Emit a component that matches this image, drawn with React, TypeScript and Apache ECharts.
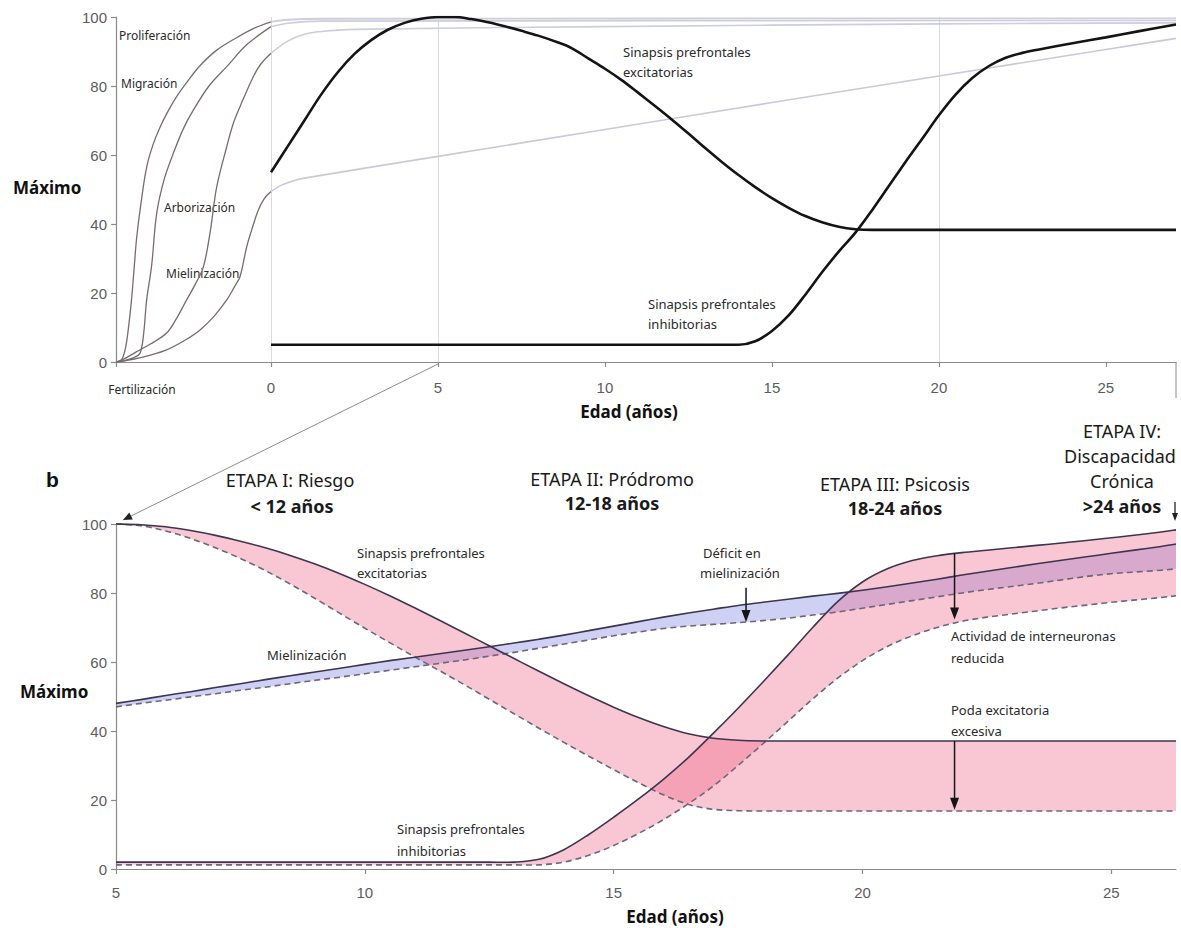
import React, { useEffect, useRef } from "react";
import * as echarts from "echarts";

type Pt = [number, number];

// ---------- Panel a: prenatal curves (x = months after fertilization, 9 = birth; y = % of maximum)
const PRE_PROLIFERACION: Pt[] = [[0, 0], [0.3, 0.4], [0.55, 4], [0.75, 11], [0.9, 18], [1.05, 27], [1.2, 36], [1.45, 46], [1.78, 56.5], [2.15, 63], [2.55, 68], [3.0, 72.5], [3.5, 76.8], [4.1, 81], [4.9, 86], [5.85, 90.4], [7.0, 94], [8.0, 96.7], [9, 98.6]];
const PRE_MIGRACION: Pt[] = [[0, 0], [0.5, 0.4], [1.0, 1.2], [1.39, 2.5], [1.6, 8], [1.78, 18], [2.07, 28], [2.36, 43], [2.8, 53], [3.33, 60.5], [3.9, 67.5], [4.49, 73], [5.4, 80], [6.43, 85.6], [7.6, 92], [9, 97.2]];
const PRE_ARBORIZACION: Pt[] = [[0, 0], [0.5, 1], [1.2, 3], [2.0, 5.2], [2.94, 8.4], [3.5, 12.5], [4.1, 18], [4.6, 22.5], [5.07, 27.5], [5.46, 37.4], [5.85, 50.8], [6.43, 62.4], [6.8, 69], [7.2, 74], [7.97, 82.7], [8.4, 86.3], [9, 89.5]];
const PRE_MIELINIZACION: Pt[] = [[0, 0], [1, 0.8], [2, 2], [2.94, 3.5], [4, 6.3], [4.88, 9.3], [5.7, 13.3], [6.43, 18], [6.9, 22], [7.2, 24.7], [7.59, 33.4], [7.88, 38.3], [8.26, 44], [8.6, 47.3], [9, 49.4]];

// ---------- Panel a: postnatal curves (x = age in years)
const POST_PROLIFERACION: Pt[] = [[0, 98.6], [0.5, 99.2], [1.5, 99.5], [27.1, 99.6]];
const POST_MIGRACION: Pt[] = [[0, 97.2], [0.5, 98.2], [1.5, 98.8], [27.1, 99]];
const POST_ARBORIZACION: Pt[] = [[0, 89.5], [0.5, 93], [1, 95], [1.5, 95.8], [2.5, 96.4], [10, 97.2], [20, 98], [27.1, 98.3]];
const POST_MIELINIZACION: Pt[] = [[0, 49.4], [0.3, 51.2], [0.7, 52.6], [1, 53.3], [5, 59.6], [10, 67.4], [15, 75.2], [20, 82.9], [25, 90.6], [27.1, 93.8]];
const POST_EXCITATORIAS: Pt[] = [[0, 55], [0.5, 62.5], [1, 70], [1.5, 77.5], [2, 84], [2.5, 89.3], [3, 93.3], [3.5, 96.3], [4, 98.3], [4.5, 99.5], [5, 100], [5.5, 100], [6, 99.4], [6.5, 98.5], [7, 97.3], [7.5, 96], [8, 94.6], [8.6, 92.6], [9, 91], [9.5, 88], [10, 85], [10.5, 81.7], [11, 78], [11.5, 74.2], [12, 70.3], [12.5, 66.2], [13, 62], [13.5, 58], [14, 54.2], [14.5, 50.7], [15, 47.5], [15.5, 44.7], [16, 42.3], [16.5, 40.5], [17, 39.2], [17.5, 38.5], [18, 38.3], [22, 38.3], [27.1, 38.3]];
const POST_INHIBITORIAS: Pt[] = [[0, 5], [10, 5], [14, 5], [14.5, 6], [15, 9], [15.5, 13.5], [16, 19.5], [16.5, 26], [17, 32], [17.5, 37.5], [18, 44], [18.5, 51], [19, 58], [19.5, 64.7], [20, 71.5], [20.5, 77.5], [21, 82.3], [21.5, 85.8], [22, 88.2], [22.5, 89.6], [23, 90.6], [24, 92.4], [25, 94.1], [26, 95.9], [27.1, 97.8]];
const POST_GUIDE_AGES = [0, 5, 20];
const POST_TICKS = [0, 5, 10, 15, 20, 25];
const Y_TICKS = [0, 20, 40, 60, 80, 100];

// ---------- Panel b: normal trajectory (solid) vs. reduced trajectory (dashed), ages 5–26.3
const B_AGES = [5, 5.5, 6, 6.5, 7, 7.5, 8, 8.5, 9, 9.5, 10, 10.5, 11, 11.5, 12, 12.5, 13, 13.5, 14, 14.5, 15, 15.5, 16, 16.5, 17, 17.5, 18, 18.5, 19, 19.5, 20, 20.5, 21, 21.5, 22, 22.5, 23, 23.5, 24, 24.5, 25, 25.5, 26, 26.3];
const B_EXC_NORMAL = [100, 99.8, 99.2, 98.1, 96.7, 95.0, 93.1, 90.9, 88.4, 85.6, 82.5, 79.2, 75.7, 72.1, 68.4, 64.7, 61, 57.3, 53.7, 50.2, 46.9, 43.9, 41.3, 39.2, 37.9, 37.3, 37.1, 37.1, 37.1, 37.1, 37.1, 37.1, 37.1, 37.1, 37.1, 37.1, 37.1, 37.1, 37.1, 37.1, 37.1, 37.1, 37.1, 37.1];
const B_EXC_REDUCIDA = [100, 99.5, 98.0, 95.8, 93.1, 90.0, 86.5, 82.6, 78.4, 74.1, 69.8, 65.6, 61.5, 57.5, 53.4, 49.2, 45, 40.8, 36.7, 32.7, 28.8, 25.0, 21.5, 18.7, 17.3, 16.9, 16.8, 16.8, 16.8, 16.8, 16.8, 16.8, 16.8, 16.8, 16.8, 16.8, 16.8, 16.8, 16.8, 16.8, 16.8, 16.8, 16.8, 16.8];
const B_INH_NORMAL = [2, 2, 2, 2, 2, 2, 2, 2, 2, 2, 2, 2, 2, 2, 2, 2, 2, 2.8, 5.6, 10, 15, 20.3, 26, 32.3, 39.3, 46.6, 54.2, 62, 70, 77.5, 83.2, 87, 89.4, 90.8, 91.7, 92.4, 93.1, 93.8, 94.5, 95.2, 96, 96.8, 97.7, 98.3];
const B_INH_REDUCIDA = [1.2, 1.2, 1.2, 1.2, 1.2, 1.2, 1.2, 1.2, 1.2, 1.2, 1.2, 1.2, 1.2, 1.2, 1.2, 1.2, 1.2, 1.2, 2, 4, 6.8, 10.3, 14.3, 18.9, 24, 30, 36.3, 42.8, 49.3, 55.3, 60.4, 64.5, 67.6, 70, 71.8, 73, 73.9, 74.8, 75.7, 76.5, 77.3, 78, 78.7, 79.2];
const B_MIE_NORMAL = [48, 49.1, 50.3, 51.4, 52.6, 53.7, 54.9, 56, 57.1, 58.2, 59.3, 60.4, 61.4, 62.4, 63.4, 64.4, 65.5, 66.6, 67.8, 69.1, 70.4, 71.7, 73, 74.2, 75.3, 76.4, 77.3, 78.2, 79.1, 79.9, 80.8, 81.8, 82.9, 84, 85.2, 86.3, 87.4, 88.5, 89.5, 90.5, 91.5, 92.5, 93.5, 94.2];
const B_MIE_REDUCIDA = [47, 48, 48.9, 49.9, 50.8, 51.8, 52.7, 53.7, 54.7, 55.6, 56.6, 57.6, 58.6, 59.6, 60.6, 61.7, 62.8, 64, 65.2, 66.4, 67.6, 68.7, 69.7, 70.4, 70.9, 71.4, 72, 72.7, 73.6, 74.5, 75.6, 76.7, 77.8, 78.9, 80, 81, 81.9, 82.8, 83.8, 84.8, 85.6, 86.1, 86.6, 87];
const B_TICKS = [5, 10, 15, 20, 25];
// Loss arrows: age, value at the normal curve, value at the reduced curve
const B_ARROW_AGES = [17.66, 21.85, 21.85];
const B_ARROW_FROM = [81.5, 91.5, 37.1];
const B_ARROW_TO = [71.6, 72.3, 17.2];

const SANS = '"Noto Sans", "Open Sans", sans-serif';
const TICK_FONT = '"Liberation Sans", Arial, sans-serif';
const AXIS_GRAY = "#8a8a8a";
const PINK = "rgba(238, 90, 130, 0.34)";
const BLUE = "rgba(120, 125, 225, 0.36)";
const SOLID = "#3d3550";
const DASHED = "#6d6579";

// Cubic segments through pixel points (Catmull-Rom style), without the initial move
function curveSegments(pts: number[][], k = 1 / 6) {
  let d = "";
  for (let i = 0; i < pts.length - 1; i++) {
    const p0 = pts[i - 1] || pts[i];
    const p1 = pts[i];
    const p2 = pts[i + 1];
    const p3 = pts[i + 2] || pts[i + 1];
    const c1x = p1[0] + (p2[0] - p0[0]) * k;
    const c1y = p1[1] + (p2[1] - p0[1]) * k;
    const c2x = p2[0] - (p3[0] - p1[0]) * k;
    const c2y = p2[1] - (p3[1] - p1[1]) * k;
    d += ` C${c1x.toFixed(2)},${c1y.toFixed(2)} ${c2x.toFixed(2)},${c2y.toFixed(2)} ${p2[0].toFixed(2)},${p2[1].toFixed(2)}`;
  }
  return d;
}

function arrowHead(tip: number[], from: number[], len = 10, half = 4, color = "#222") {
  const dx = tip[0] - from[0];
  const dy = tip[1] - from[1];
  const d = Math.hypot(dx, dy) || 1;
  const ux = dx / d;
  const uy = dy / d;
  const bx = tip[0] - ux * len;
  const by = tip[1] - uy * len;
  return {
    type: "polygon",
    silent: true,
    shape: { points: [tip, [bx - uy * half, by + ux * half], [bx + uy * half, by - ux * half]] },
    style: { fill: color },
  };
}

function text(x: number, y: number, s: string, opts: any = {}) {
  return {
    type: "text",
    x,
    y,
    silent: true,
    style: {
      text: s,
      fontFamily: opts.family || SANS,
      fontSize: opts.size || 13,
      fontWeight: opts.bold ? "bold" : "normal",
      fill: opts.color || "#2a2a2a",
      align: opts.align || "left",
      verticalAlign: "middle",
    },
  };
}

export default function App() {
  const ref = useRef<HTMLDivElement>(null);

  useEffect(() => {
    if (!ref.current) return;
    const chart = echarts.init(ref.current, undefined, { renderer: "svg" });

    const axisLine = { show: true, lineStyle: { color: AXIS_GRAY, width: 1.2 } };
    const axisTick = (values: number[]) => ({ show: true, length: 5, customValues: values, lineStyle: { color: AXIS_GRAY, width: 1.2 } });
    const yAxisBase = (gridIndex: number, show: boolean) => ({
      type: "value",
      gridIndex,
      min: 0,
      max: 100,
      interval: 20,
      show,
      axisLine,
      axisTick: axisTick(Y_TICKS),
      axisLabel: { show, margin: 9, fontFamily: TICK_FONT, fontSize: 15, color: "#5c5c5c" },
      splitLine: { show: false },
    });

    const thinLine = (xAxisIndex: number, data: Pt[], color: string, width: number, extra: any = {}) => ({
      type: "line",
      xAxisIndex,
      yAxisIndex: xAxisIndex,
      data,
      smooth: 0.35,
      showSymbol: false,
      silent: true,
      lineStyle: { color, width },
      z: 3,
      ...extra,
    });

    // Filled band between a normal (hi) and reduced (lo) trajectory in panel b
    const bandSeries = (lo: number[], hi: number[], color: string, z: number) => ({
      type: "custom",
      xAxisIndex: 2,
      yAxisIndex: 2,
      silent: true,
      z,
      data: B_AGES.map((a, i) => [a, hi[i], lo[i]]),
      encode: { x: 0, y: [1, 2] },
      renderItem: (params: any, api: any) => {
        if (params.dataIndex !== 0) return null;
        const up = B_AGES.map((a, i) => api.coord([a, hi[i]]));
        const dn = B_AGES.map((a, i) => api.coord([a, lo[i]])).reverse();
        const pathData =
          `M${up[0][0]},${up[0][1]}` + curveSegments(up) + ` L${dn[0][0]},${dn[0][1]}` + curveSegments(dn) + " Z";
        return { type: "path", shape: { pathData }, style: { fill: color, stroke: "none" } };
      },
    });

    // Solid or dashed trajectory line in panel b
    const curveSeries = (vals: number[], dashed: boolean) => ({
      type: "custom",
      xAxisIndex: 2,
      yAxisIndex: 2,
      silent: true,
      z: 4,
      data: B_AGES.map((a, i) => [a, vals[i]]),
      encode: { x: 0, y: 1 },
      renderItem: (params: any, api: any) => {
        if (params.dataIndex !== 0) return null;
        const pts = B_AGES.map((a, i) => api.coord([a, vals[i]]));
        const pathData = `M${pts[0][0]},${pts[0][1]}` + curveSegments(pts);
        return {
          type: "path",
          shape: { pathData },
          style: dashed
            ? { fill: "none", stroke: DASHED, lineWidth: 1.6, lineDash: [6, 4] }
            : { fill: "none", stroke: SOLID, lineWidth: 1.6 },
        };
      },
    });

    const arrowSeries = {
      type: "custom",
      xAxisIndex: 2,
      yAxisIndex: 2,
      silent: true,
      z: 6,
      data: B_ARROW_AGES.map((a, i) => [a, B_ARROW_FROM[i], B_ARROW_TO[i]]),
      encode: { x: 0, y: [1, 2] },
      renderItem: (params: any, api: any) => {
        const a = api.coord([api.value(0), api.value(1)]);
        const b = api.coord([api.value(0), api.value(2)]);
        return {
          type: "group",
          children: [
            { type: "line", shape: { x1: a[0], y1: a[1], x2: b[0], y2: b[1] - 9 }, style: { stroke: "#151515", lineWidth: 1.5 } },
            {
              type: "polygon",
              shape: { points: [[b[0], b[1]], [b[0] - 4.5, b[1] - 12], [b[0] + 4.5, b[1] - 12]] },
              style: { fill: "#151515" },
            },
          ],
        };
      },
    };

    const option: any = {
      animation: false,
      backgroundColor: "#ffffff",
      grid: [
        { left: 116, top: 17, width: 155, height: 345 },
        { left: 271, top: 17, right: 5, height: 345 },
        { left: 116, top: 524, right: 5, height: 345 },
      ],
      xAxis: [
        {
          type: "value",
          gridIndex: 0,
          min: 0,
          max: 9,
          interval: 9,
          axisLine,
          axisTick: axisTick([0]),
          axisLabel: { show: false },
          splitLine: { show: false },
        },
        {
          type: "value",
          gridIndex: 1,
          min: 0,
          max: 27.1,
          interval: 5,
          axisLine,
          axisTick: axisTick(POST_TICKS),
          axisLabel: {
            customValues: POST_TICKS,
            margin: 18,
            fontFamily: TICK_FONT,
            fontSize: 15,
            color: "#5c5c5c",
            formatter: (v: number) => (POST_TICKS.includes(v) ? String(v) : ""),
          },
          splitLine: { show: false },
        },
        {
          type: "value",
          gridIndex: 2,
          min: 5,
          max: 26.3,
          interval: 5,
          axisLine,
          axisTick: axisTick(B_TICKS),
          axisLabel: {
            customValues: B_TICKS,
            margin: 16,
            fontFamily: TICK_FONT,
            fontSize: 15,
            color: "#5c5c5c",
            formatter: (v: number) => (B_TICKS.includes(v) ? String(v) : ""),
          },
          splitLine: { show: false },
        },
      ],
      yAxis: [yAxisBase(0, true), yAxisBase(1, false), yAxisBase(2, true)],
      series: [
        // prenatal processes
        thinLine(0, PRE_PROLIFERACION, "#766c6c", 1.3),
        thinLine(0, PRE_MIGRACION, "#766c6c", 1.3),
        thinLine(0, PRE_ARBORIZACION, "#766c6c", 1.3),
        thinLine(0, PRE_MIELINIZACION, "#766c6c", 1.3),
        // postnatal continuation of those processes
        thinLine(1, POST_PROLIFERACION, "#cdcddc", 1.8, {
          markLine: {
            silent: true,
            symbol: "none",
            label: { show: false },
            lineStyle: { color: "#d9d9e2", width: 1, type: "solid" },
            data: POST_GUIDE_AGES.map((a) => ({ xAxis: a })),
            z: 1,
          },
        }),
        thinLine(1, POST_MIGRACION, "#cdcddc", 1.6),
        thinLine(1, POST_ARBORIZACION, "#cdcddc", 1.6),
        thinLine(1, POST_MIELINIZACION, "#c9c9da", 1.6),
        // prefrontal synapses
        thinLine(1, POST_EXCITATORIAS, "#141414", 2.6, { z: 5 }),
        thinLine(1, POST_INHIBITORIAS, "#141414", 2.6, { z: 5 }),
        // panel b: bands between normal and reduced trajectories
        bandSeries(B_MIE_REDUCIDA, B_MIE_NORMAL, BLUE, 1),
        bandSeries(B_EXC_REDUCIDA, B_EXC_NORMAL, PINK, 2),
        bandSeries(B_INH_REDUCIDA, B_INH_NORMAL, PINK, 2),
        curveSeries(B_MIE_REDUCIDA, true),
        curveSeries(B_EXC_REDUCIDA, true),
        curveSeries(B_INH_REDUCIDA, true),
        curveSeries(B_MIE_NORMAL, false),
        curveSeries(B_EXC_NORMAL, false),
        curveSeries(B_INH_NORMAL, false),
        arrowSeries,
      ],
    };

    chart.setOption(option);

    // Connector between the panels and stage arrow, placed through the axes
    const top5 = chart.convertToPixel({ xAxisIndex: 1, yAxisIndex: 1 }, [5, 0]) as number[];
    const topEnd = chart.convertToPixel({ xAxisIndex: 1, yAxisIndex: 1 }, [27.1, 0]) as number[];
    const bot5 = chart.convertToPixel({ xAxisIndex: 2, yAxisIndex: 2 }, [5, 100]) as number[];
    const botEnd = chart.convertToPixel({ xAxisIndex: 2, yAxisIndex: 2 }, [26.3, 100]) as number[];
    const connStart = [top5[0], top5[1] + 2];
    const connTip = [bot5[0] + 7, bot5[1] - 4];
    const stageTop = [botEnd[0] - 1, botEnd[1] - 22];
    const stageTip = [botEnd[0] - 1, botEnd[1] - 3];

    const graphics: any[] = [
      {
        type: "line",
        silent: true,
        shape: { x1: connStart[0], y1: connStart[1], x2: connTip[0], y2: connTip[1] },
        style: { stroke: "#8c8c8c", lineWidth: 1 },
      },
      arrowHead(connTip, connStart, 9, 4, "#222"),
      {
        type: "line",
        silent: true,
        shape: { x1: topEnd[0], y1: topEnd[1], x2: topEnd[0], y2: topEnd[1] + 36 },
        style: { stroke: "#8c8c8c", lineWidth: 1 },
      },
      {
        type: "line",
        silent: true,
        shape: { x1: stageTop[0], y1: stageTop[1], x2: stageTip[0], y2: stageTip[1] - 6 },
        style: { stroke: "#222", lineWidth: 1.3 },
      },
      arrowHead(stageTip, stageTop, 8, 3, "#222"),

      // panel a labels
      text(119, 35, "Proliferación", { size: 12 }),
      text(121, 83, "Migración", { size: 12 }),
      text(164, 207, "Arborización", { size: 12 }),
      text(166, 273, "Mielinización", { size: 12 }),
      text(13, 187, "Máximo", { size: 17, bold: true, color: "#111" }),
      text(142, 389, "Fertilización", { size: 12, align: "center" }),
      text(623, 52, "Sinapsis prefrontales", { size: 13 }),
      text(623, 72, "excitatorias", { size: 13 }),
      text(648, 304, "Sinapsis prefrontales", { size: 13 }),
      text(648, 324, "inhibitorias", { size: 13 }),
      text(629, 411, "Edad (años)", { size: 17, bold: true, align: "center", color: "#111" }),

      // panel b labels
      text(46, 479, "b", { size: 21, bold: true, color: "#111", family: TICK_FONT }),
      text(290, 480, "ETAPA I: Riesgo", { size: 18, align: "center", color: "#1a1a1a" }),
      text(292, 506, "< 12 años", { size: 18, bold: true, align: "center", color: "#1a1a1a" }),
      text(612, 479, "ETAPA II: Pródromo", { size: 18, align: "center", color: "#1a1a1a" }),
      text(612, 503, "12-18 años", { size: 18, bold: true, align: "center", color: "#1a1a1a" }),
      text(895, 484, "ETAPA III: Psicosis", { size: 18, align: "center", color: "#1a1a1a" }),
      text(895, 508, "18-24 años", { size: 18, bold: true, align: "center", color: "#1a1a1a" }),
      text(1122, 431, "ETAPA IV:", { size: 18, align: "center", color: "#1a1a1a" }),
      text(1120, 456, "Discapacidad", { size: 18, align: "center", color: "#1a1a1a" }),
      text(1122, 481, "Crónica", { size: 18, align: "center", color: "#1a1a1a" }),
      text(1122, 506, ">24 años", { size: 18, bold: true, align: "center", color: "#1a1a1a" }),
      text(357, 553, "Sinapsis prefrontales", { size: 13 }),
      text(357, 573, "excitatorias", { size: 13 }),
      text(267, 655, "Mielinización", { size: 13 }),
      text(703, 553, "Déficit en", { size: 13 }),
      text(700, 573, "mielinización", { size: 13 }),
      text(951, 636, "Actividad de interneuronas", { size: 13 }),
      text(951, 658, "reducida", { size: 13 }),
      text(951, 710, "Poda excitatoria", { size: 13 }),
      text(951, 731, "excesiva", { size: 13 }),
      text(397, 829, "Sinapsis prefrontales", { size: 13 }),
      text(397, 851, "inhibitorias", { size: 13 }),
      text(20, 691, "Máximo", { size: 17, bold: true, color: "#111" }),
      text(675, 916, "Edad (años)", { size: 17, bold: true, align: "center", color: "#111" }),
    ];

    chart.setOption({ graphic: { elements: graphics } });

    return () => chart.dispose();
  }, []);

  return (
    <div
      ref={ref}
      style={{ position: "absolute", left: 0, top: 0, width: 1181, height: 928, background: "#ffffff" }}
    />
  );
}
